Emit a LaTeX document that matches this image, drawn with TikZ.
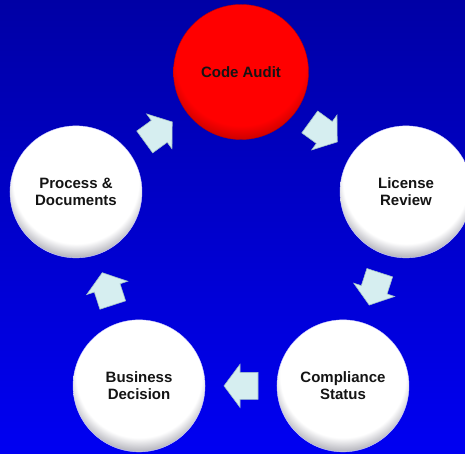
\documentclass[tikz,border=0pt]{standalone}
\usepackage{fontspec}
\setmainfont{Liberation Sans}
\usetikzlibrary{calc}
\definecolor{bgtop}{RGB}{0,0,165}
\definecolor{bgbot}{RGB}{0,0,242}
\definecolor{arrowfill}{RGB}{214,238,240}
\definecolor{arrowedge}{RGB}{165,195,200}
\definecolor{rimgray}{RGB}{178,178,186}
\definecolor{textdark}{RGB}{20,20,20}
\definecolor{redrim}{RGB}{205,0,0}
\pgfdeclareradialshading{whiteball}{\pgfpoint{0bp}{8bp}}{color(0bp)=(white); color(23.8bp)=(white); color(28.5bp)=(rimgray); color(50bp)=(rimgray)}
\pgfdeclareradialshading{redball}{\pgfpoint{0bp}{8bp}}{color(0bp)=(red); color(24bp)=(red); color(28.5bp)=(redrim); color(50bp)=(redrim)}
\begin{document}
\begin{tikzpicture}[x=1pt,y=1pt,
  stage/.style={circle, minimum size=132pt, inner sep=0pt, align=center,
    font=\bfseries\fontsize{15}{17}\selectfont, text=textdark,
    shade, shading=whiteball, draw=white!80!blue, line width=0.4pt},
  hotstage/.style={stage, shading=redball, draw=red!75!black, minimum size=135pt},
  blockarrow/.style={fill=arrowfill, draw=arrowedge, line width=0.6pt, line join=miter}]
\useasboundingbox (0,0) rectangle (465,454);
\clip (0,0) rectangle (465,454);
\fill[top color=bgtop, bottom color=bgbot] (0,0) rectangle (465,454);
\coordinate (ctr) at (241,208.5);
\node[hotstage] (audit) at ($(ctr)+(90:173.5)$) {Code Audit};
\node[stage] (license) at ($(ctr)+(18:173.5)$) {License\\Review};
\node[stage] (comp) at ($(ctr)+(-54:173.5)$) {Compliance\\Status};
\node[stage] (biz) at ($(ctr)+(234:173.5)$) {Business\\Decision};
\node[stage] (proc) at ($(ctr)+(162:173.5)$) {Process \&\\Documents};
\foreach \a/\b/\ang in {proc/audit/36, audit/license/-36, license/comp/-108, comp/biz/180, biz/proc/108}
  \draw[blockarrow, shift={($(\a)!0.5!(\b)$)}, rotate=\ang]
    (-17,-13.5) -- (1,-13.5) -- (1,-21.5) -- (17,0) -- (1,21.5) -- (1,13.5) -- (-17,13.5) -- cycle;
\end{tikzpicture}
\end{document}
